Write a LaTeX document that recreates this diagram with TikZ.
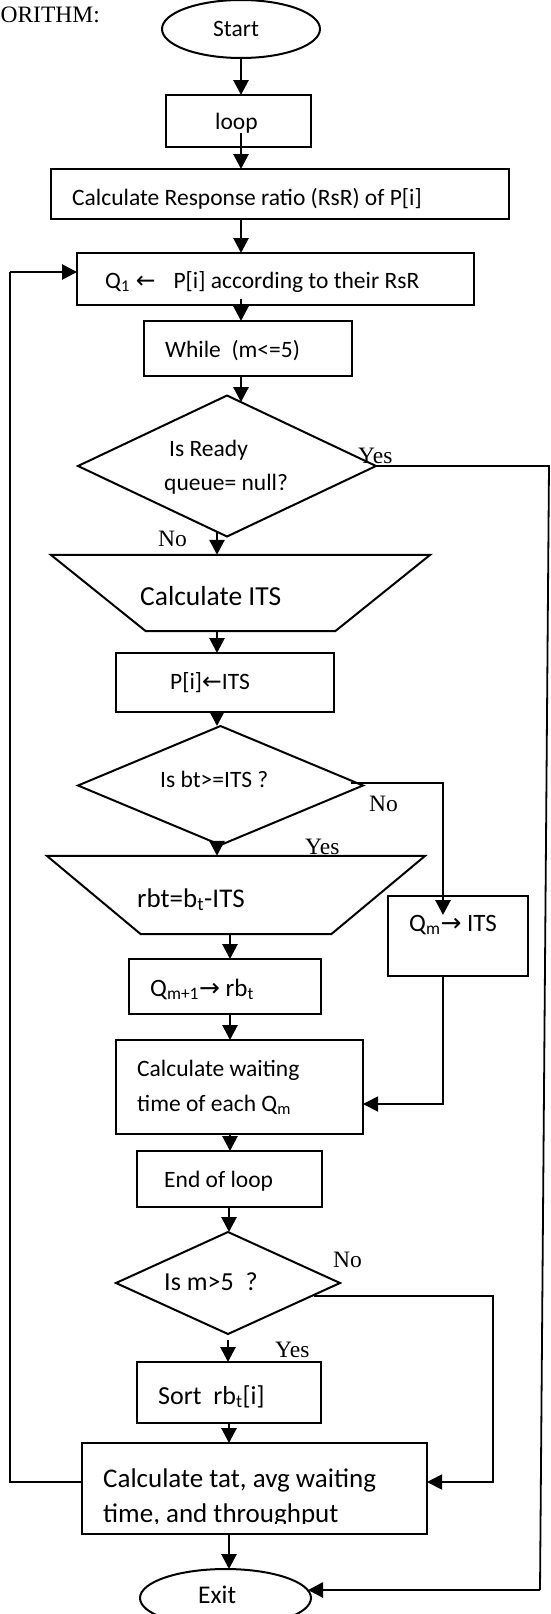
\documentclass[tikz,border=0pt]{standalone}
\usepackage{fontspec}
\setmainfont{Liberation Serif}
\newfontfamily\boxfont{Carlito}
\newfontfamily\arrfont{DejaVu Sans}
\usetikzlibrary{shapes.geometric,arrows.meta,calc}
\newcommand{\myfs}[1]{\fontsize{#1}{35}\selectfont}
\newcommand{\myra}{{\arrfont →}}
\newcommand{\myla}{{\arrfont ←}}
\begin{document}
\begin{tikzpicture}[x=1pt,y=-1pt,
  shp/.style={draw, line width=2pt, inner sep=0pt, outer sep=0pt},
  txt/.style={anchor=base west, inner sep=0pt, font={\boxfont\myfs{23.5}}},
  lbl/.style={anchor=base west, inner sep=0pt, font={\myfs{23.5}}},
  arr/.style={line width=2.8pt, -{Triangle[length=15pt,width=15pt]}},
  thinarr/.style={line width=1.8pt, -{Triangle[length=15pt,width=15pt]}},
  thinline/.style={line width=1.8pt},
]
\useasboundingbox (0,0) rectangle (550,1614);

% title fragment
\node[lbl, anchor=base east] (title) at (100,23) {ORITHM:};

% shapes
\node[shp, ellipse, minimum width=158pt, minimum height=58pt] (start) at (241,29) {};
\node[txt] (tstart) at (213,36) {Start};

\node[shp, minimum width=145pt, minimum height=52pt] (loop) at (238.5,121) {};
\node[txt] (tloop) at (215,129) {loop};

\node[shp, minimum width=458pt, minimum height=50pt] (rsr) at (280,194) {};
\node[txt] (trsr) at (72,205) {Calculate Response ratio (RsR) of P[i]};

\node[shp, minimum width=397pt, minimum height=52pt] (q1) at (275.5,279) {};
\node[txt] (tq1) at (105,288) {Q\textsubscript{1}\hspace{6pt}\myla\hspace{18pt}P[i] according to their RsR};

\node[shp, minimum width=208pt, minimum height=55pt] (while) at (248,348.5) {};
\node[txt] (twhile) at (165,357) {While\ \ (m<=5)};

\node[shp, diamond, minimum width=298pt, minimum height=141pt] (d1) at (227,466) {};
\node[txt] (td1a) at (169,456) {Is Ready};
\node[txt] (td1b) at (164,490) {queue= null?};
\node[lbl] (yes1) at (358,463) {Yes};
\node[lbl] (no1) at (158,546) {No};

\node[minimum width=379pt, minimum height=76pt, inner sep=0pt] (t1) at (240.5,593) {};
\draw[line width=2pt] (t1.north west) -- (t1.north east) -- ($(t1.south east)+(-95,0)$) -- ($(t1.south west)+(95,0)$) -- cycle;
\node[txt, font={\boxfont\myfs{27.5}}] (tt1) at (140,605) {Calculate ITS};

\node[shp, minimum width=218pt, minimum height=59pt] (pbox) at (225,682.5) {};
\node[txt] (tp) at (170,689.5) {P[i]\myla ITS};

\node[shp, diamond, minimum width=285pt, minimum height=119pt] (d2) at (220.5,785.5) {};
\node[txt] (td2) at (160,787.5) {Is bt>=ITS ?};
\node[lbl] (no2) at (369,811) {No};
\node[lbl] (yes2) at (305,854) {Yes};

\node[minimum width=378pt, minimum height=78pt, inner sep=0pt] (t2) at (236,895) {};
\draw[line width=2pt] (t2.north west) -- (t2.north east) -- ($(t2.south east)+(-94,0)$) -- ($(t2.south west)+(94,0)$) -- cycle;
\node[txt, font={\boxfont\myfs{27}}] (tt2) at (137,907) {rbt=b\textsubscript{t}-ITS};

\node[shp, minimum width=140pt, minimum height=80pt] (qm) at (458,936) {};
\node[txt, font={\boxfont\myfs{25}}] (tqm) at (409,931) {Q\textsubscript{m}\myra\ ITS};

\node[shp, minimum width=192pt, minimum height=55pt] (qm1) at (225,986.5) {};
\node[txt, font={\boxfont\myfs{25}}] (tqm1) at (150,996) {Q\textsubscript{m+1}\myra\ rb\textsubscript{t}};

\node[shp, minimum width=247pt, minimum height=94pt] (wait) at (239.5,1087) {};
\node[txt] (twait1) at (137,1076) {Calculate waiting};
\node[txt] (twait2) at (137,1111) {time of each Q\textsubscript{m}};

\node[shp, minimum width=185pt, minimum height=56pt] (endl) at (229.5,1179) {};
\node[txt] (tend) at (164,1187.5) {End of loop};

\node[shp, diamond, minimum width=224pt, minimum height=102pt] (d3) at (228,1283) {};
\node[txt, font={\boxfont\myfs{26}}] (td3) at (164,1290) {Is m>5\hspace{12pt}?};
\node[lbl] (no3) at (333,1267.5) {No};
\node[lbl] (yes3) at (275,1357) {Yes};

\node[shp, minimum width=184pt, minimum height=61pt] (sort) at (229,1392.5) {};
\node[txt, font={\boxfont\myfs{26}}] (tsort) at (158,1404) {Sort\ \ rb\textsubscript{t}[i]};

\node[shp, minimum width=345pt, minimum height=91pt] (tat) at (254.5,1488.5) {};
\node[txt, font={\boxfont\myfs{27}}] (ttat1) at (103,1487) {Calculate tat, avg waiting};
\begin{scope}
\clip (0,0) rectangle (550,1523);
\node[txt, font={\boxfont\myfs{27}}] (ttat2) at (103,1522) {time, and throughput};
\end{scope}

\node[shp, ellipse, minimum width=171pt, minimum height=58pt] (exit) at (225.5,1598) {};
\node[txt, font={\boxfont\myfs{25.5}}] (texit) at (198,1603) {Exit};

% helper coordinates
\coordinate (c241) at (241,0);
\coordinate (c217) at (217,0);
\coordinate (c230) at (230,0);
\coordinate (c229) at (229,0);

% main flow arrows
\draw[arr] (start.south -| c241) -- (loop.north -| c241);
\draw[arr] ([yshift=14pt]loop.south -| c241) -- (rsr.north -| c241);
\draw[arr] (rsr.south -| c241) -- (q1.north -| c241);
\draw[arr] ([yshift=6pt]q1.south -| c241) -- (while.north -| c241);
\draw[arr] (while.south -| c241) -- ($(d1.north)+(14,6.6)$);
\draw[arr] ($(d1.south)+(-10,-4.7)$) -- (t1.north -| c217);
\draw[arr] (t1.south -| c217) -- (pbox.north -| c217);
\draw[arr] (pbox.south -| c217) -- (d2.north -| c217);
\draw[arr] (d2.south -| c217) -- (t2.north -| c217);
\draw[arr] (t2.south -| c230) -- (qm1.north -| c230);
\draw[arr] (qm1.south -| c230) -- (wait.north -| c230);
\draw[arr] (wait.south -| c230) -- (endl.north -| c230);
\draw[arr] (endl.south -| c229) -- (d3.north -| c229);
\draw[arr] ([yshift=-6pt]d3.south) -- (sort.north -| d3.south);
\draw[arr] (sort.south -| c229) -- (tat.north -| c229);
\draw[arr] (tat.south -| c229) -- (exit.north -| c229);

% Yes branch of ready-queue test to Exit
\coordinate (r1) at (549,466);
\coordinate (r2) at (540,1590);
\draw[thinline] (d1.east) -- (r1) -- (r2);
\draw[arr] (r2) -- ($(exit.east)+(-3,-8)$);

% No branch of bt>=ITS
\coordinate (n2a) at (351,783);
\coordinate (n2b) at (443,783);
\draw[arr] (n2a) -- (n2b) -- ($(n2b |- qm.north)+(0,19)$);
\draw[thinarr] (qm.south -| n2b) |- ($(wait.east)+(0,17)$);

% No branch of m>5
\coordinate (n3a) at (314,1296);
\coordinate (n3b) at (493,1296);
\draw[thinarr] (n3a) -- (n3b) |- ($(tat.east)+(0,-6.5)$);

% loop back to Q1
\coordinate (l1) at (10,1482);
\coordinate (l2) at (10,272);
\draw[thinline] (l1 -| tat.west) -- (l1) -- (l2);
\draw[arr] (l2) -- (l2 -| q1.west);
\end{tikzpicture}
\end{document}
